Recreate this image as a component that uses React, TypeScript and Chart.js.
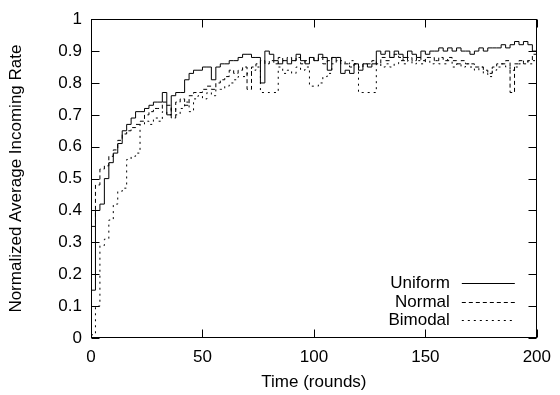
import React, { useEffect, useRef } from "react";
import { Chart, registerables } from "chart.js";

Chart.register(...registerables);

// rounds sampled every 2 rounds, 0..200
const rounds: number[] = Array.from({ length: 101 }, (_, i) => i * 2);

const uniform: number[] = [
  0.15, 0.40, 0.42, 0.50, 0.55, 0.58, 0.61, 0.65, 0.67, 0.69,
  0.71, 0.71, 0.72, 0.73, 0.74, 0.74, 0.77, 0.70, 0.76, 0.77,
  0.77, 0.81, 0.83, 0.84, 0.84, 0.85, 0.85, 0.81, 0.85, 0.86,
  0.86, 0.87, 0.87, 0.88, 0.89, 0.89, 0.88, 0.88, 0.80, 0.90,
  0.89, 0.87, 0.86, 0.87, 0.86, 0.87, 0.89, 0.87, 0.86, 0.88,
  0.87, 0.89, 0.88, 0.84, 0.88, 0.88, 0.83, 0.84, 0.83, 0.86,
  0.84, 0.86, 0.85, 0.86, 0.90, 0.89, 0.90, 0.88, 0.90, 0.89,
  0.88, 0.90, 0.89, 0.88, 0.90, 0.89, 0.90, 0.90, 0.91, 0.90,
  0.91, 0.90, 0.91, 0.90, 0.90, 0.89, 0.90, 0.91, 0.90, 0.91,
  0.91, 0.91, 0.92, 0.91, 0.92, 0.93, 0.92, 0.93, 0.92, 0.90,
  0.90,
];

const normal: number[] = [
  0.35, 0.48, 0.53, 0.54, 0.57, 0.59, 0.62, 0.64, 0.65, 0.66,
  0.67, 0.68, 0.70, 0.71, 0.72, 0.72, 0.74, 0.73, 0.69, 0.74,
  0.75, 0.73, 0.76, 0.77, 0.77, 0.78, 0.79, 0.78, 0.80, 0.81,
  0.82, 0.84, 0.83, 0.84, 0.85, 0.78, 0.85, 0.86, 0.87, 0.86,
  0.87, 0.86, 0.88, 0.87, 0.88, 0.87, 0.88, 0.86, 0.87, 0.88,
  0.87, 0.88, 0.86, 0.87, 0.88, 0.87, 0.86, 0.86, 0.85, 0.86,
  0.85, 0.86, 0.86, 0.87, 0.86, 0.88, 0.87, 0.88, 0.89, 0.88,
  0.87, 0.88, 0.87, 0.88, 0.87, 0.88, 0.88, 0.87, 0.88, 0.87,
  0.88, 0.87, 0.86, 0.87, 0.86, 0.86, 0.85, 0.85, 0.84, 0.83,
  0.85, 0.86, 0.86, 0.87, 0.77, 0.86, 0.87, 0.86, 0.87, 0.89,
  0.80,
];

const bimodal: number[] = [
  0.01, 0.10, 0.29, 0.31, 0.37, 0.42, 0.46, 0.47, 0.56, 0.57,
  0.58, 0.67, 0.68, 0.67, 0.69, 0.68, 0.71, 0.70, 0.72, 0.70,
  0.72, 0.74, 0.71, 0.75, 0.76, 0.75, 0.77, 0.76, 0.78, 0.78,
  0.79, 0.80, 0.81, 0.82, 0.82, 0.83, 0.84, 0.85, 0.77, 0.77,
  0.77, 0.77, 0.85, 0.83, 0.84, 0.83, 0.85, 0.84, 0.85, 0.79,
  0.79, 0.80, 0.82, 0.83, 0.86, 0.88, 0.87, 0.86, 0.87, 0.86,
  0.77, 0.77, 0.77, 0.77, 0.86, 0.85, 0.86, 0.85, 0.86, 0.87,
  0.86, 0.87, 0.86, 0.87, 0.86, 0.87, 0.86, 0.87, 0.86, 0.86,
  0.87, 0.85, 0.86, 0.85, 0.86, 0.85, 0.84, 0.85, 0.83, 0.82,
  0.84, 0.85, 0.86, 0.85, 0.84, 0.85, 0.86, 0.87, 0.86, 0.87,
  0.86,
];

const seriesNames: string[] = ["Uniform", "Normal", "Bimodal"];
const seriesDash: number[][] = [[], [4, 3], [2, 4]];

const xTicks: number[] = [0, 50, 100, 150, 200];
const xTickLabels: string[] = ["0", "50", "100", "150", "200"];
const yTicks: number[] = [0, 0.1, 0.2, 0.3, 0.4, 0.5, 0.6, 0.7, 0.8, 0.9, 1];
const yTickLabels: string[] = ["0", "0.1", "0.2", "0.3", "0.4", "0.5", "0.6", "0.7", "0.8", "0.9", "1"];

const xTitle = "Time (rounds)";
const yTitle = "Normalized Average Incoming Rate";

const FAMILY = "'Liberation Sans', Arial, Helvetica, sans-serif";
const FSIZE = 17;

const framePlugin = {
  id: "gnuframe",
  afterDatasetsDraw(chart: any) {
    const { ctx, chartArea: a, scales } = chart;
    ctx.save();
    ctx.strokeStyle = "#000";
    ctx.lineWidth = 1;
    ctx.setLineDash([]);
    const L = Math.round(a.left) + 0.5;
    const R = Math.round(a.right) - 0.5;
    const T = Math.round(a.top) + 0.5;
    const B = Math.round(a.bottom) - 0.5;
    ctx.strokeRect(L, T, R - L, B - T);
    const tl = 8;
    ctx.beginPath();
    yTicks.forEach((v) => {
      const y = Math.round(scales.y.getPixelForValue(v)) + 0.5;
      ctx.moveTo(L, y);
      ctx.lineTo(L + tl, y);
      ctx.moveTo(R, y);
      ctx.lineTo(R - tl, y);
    });
    xTicks.forEach((v) => {
      const x = Math.round(scales.x.getPixelForValue(v)) + 0.5;
      ctx.moveTo(x, B);
      ctx.lineTo(x, B - tl);
      ctx.moveTo(x, T);
      ctx.lineTo(x, T + tl);
    });
    ctx.stroke();

    // key (legend) in lower right, gnuplot style
    ctx.font = `${FSIZE}px ${FAMILY}`;
    ctx.fillStyle = "#000";
    ctx.textAlign = "right";
    ctx.textBaseline = "middle";
    const rowsY = [a.bottom - 55, a.bottom - 36.5, a.bottom - 18];
    chart.data.datasets.forEach((ds: any, i: number) => {
      const y = Math.round(rowsY[i]) + 0.5;
      ctx.fillText(ds.label, a.right - 87, y);
      ctx.beginPath();
      ctx.setLineDash(ds.borderDash || []);
      ctx.moveTo(a.right - 75, y);
      ctx.lineTo(a.right - 22, y);
      ctx.stroke();
    });
    ctx.restore();
  },
};

export default function App() {
  const canvasRef = useRef<HTMLCanvasElement | null>(null);

  useEffect(() => {
    const canvas = canvasRef.current;
    if (!canvas) return;
    const font = { family: FAMILY, size: FSIZE };
    const valueSets = [uniform, normal, bimodal];
    const chart = new Chart(canvas, {
      type: "line",
      data: {
        datasets: valueSets.map((vals, i) => ({
          label: seriesNames[i],
          data: rounds.map((r, j) => ({ x: r, y: vals[j] })),
          borderColor: "#000",
          backgroundColor: "#000",
          borderWidth: 1,
          borderDash: seriesDash[i],
          stepped: true,
          pointRadius: 0,
          fill: false,
        })),
      },
      options: {
        animation: false,
        responsive: false,
        maintainAspectRatio: false,
        devicePixelRatio: 1,
        layout: { padding: { top: 13, right: 20, left: 0, bottom: 0 } },
        plugins: {
          legend: { display: false },
          tooltip: { enabled: false },
        },
        scales: {
          x: {
            type: "linear",
            min: 0,
            max: 200,
            afterBuildTicks: (s: any) => {
              s.ticks = xTicks.map((v) => ({ value: v }));
            },
            afterFit: (s: any) => {
              s.height = 57;
            },
            ticks: {
              font,
              color: "#000",
              padding: 9,
              maxRotation: 0,
              autoSkip: false,
              callback: (_v: any, i: number) => xTickLabels[i],
            },
            grid: { display: false, drawTicks: false },
            border: { display: false },
            title: {
              display: true,
              text: xTitle,
              font,
              color: "#000",
              padding: { top: 0, bottom: 2 },
            },
          },
          y: {
            type: "linear",
            min: 0,
            max: 1,
            afterBuildTicks: (s: any) => {
              s.ticks = yTicks.map((v) => ({ value: v }));
            },
            afterFit: (s: any) => {
              s.width = 91;
            },
            ticks: {
              font,
              color: "#000",
              padding: 9,
              autoSkip: false,
              callback: (_v: any, i: number) => yTickLabels[i],
            },
            grid: { display: false, drawTicks: false },
            border: { display: false },
            title: {
              display: true,
              text: yTitle,
              font,
              color: "#000",
              padding: { top: 6, bottom: 0 },
            },
          },
        },
      },
      plugins: [framePlugin],
    } as any);
    return () => chart.destroy();
  }, []);

  return (
    <div style={{ position: "absolute", left: 0, top: 0, width: 560, height: 395, background: "#fff" }}>
      <canvas ref={canvasRef} width={560} height={395} style={{ display: "block", width: 560, height: 395 }} />
    </div>
  );
}
